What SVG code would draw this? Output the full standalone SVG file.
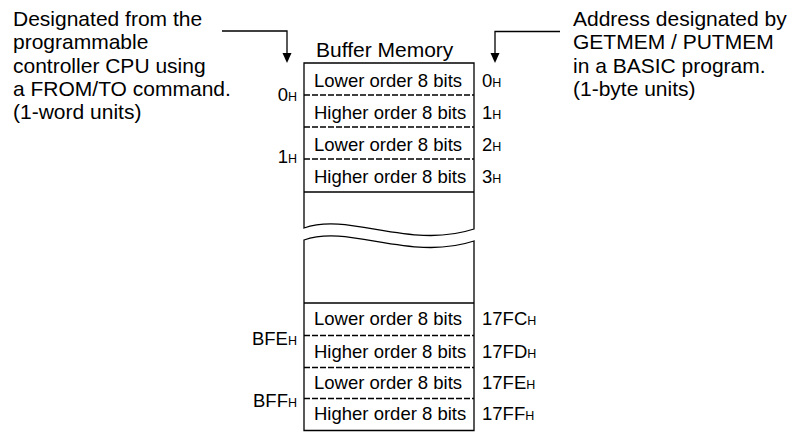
<svg xmlns="http://www.w3.org/2000/svg" width="797" height="432" viewBox="0 0 797 432">
<defs>
<style>
text{font-family:"Liberation Sans",Arial,sans-serif;fill:#000}
.ann{font-size:21px}
.cell{font-size:18.5px}
.lbl{font-size:18.5px}
.sub{font-size:12.5px}
.ln{fill:none;stroke:#000;stroke-width:1.3}
.dash{fill:none;stroke:#000;stroke-width:1.3;stroke-dasharray:6 2}
</style>
<marker id="ah" markerWidth="10" markerHeight="11" refX="5" refY="10" orient="auto-start-reverse" markerUnits="userSpaceOnUse" viewBox="0 0 10 11">
<path d="M0,0 L10,0 L5,10 Z" fill="#000" transform="translate(0,0)"/>
</marker>
</defs>
<rect width="797" height="432" fill="#fff"/>

<g id="note-left">
<text class="ann" x="13" y="26">Designated from the</text>
<text class="ann" x="13" y="49.3">programmable</text>
<text class="ann" x="13" y="72.6">controller CPU using</text>
<text class="ann" x="13" y="96">a FROM/TO command.</text>
<text class="ann" x="13" y="119.3">(1-word units)</text>
</g>

<g id="note-right">
<text class="ann" x="573" y="26">Address designated by</text>
<text class="ann" x="573" y="49.3">GETMEM / PUTMEM</text>
<text class="ann" x="573" y="72.6">in a BASIC program.</text>
<text class="ann" x="573" y="96">(1-byte units)</text>
</g>

<g id="connectors">
<path class="ln" d="M222,31 H287 V54"/>
<path d="M282.5,53 L291.5,53 L287,63 Z" fill="#000"/>
<path class="ln" d="M560,31.5 H495 V54"/>
<path d="M490.5,53 L499.5,53 L495,63 Z" fill="#000"/>
</g>

<g id="buffer-memory">
<text class="ann" x="316" y="57">Buffer Memory</text>
<!-- upper piece -->
<path d="M304,228 V63 H474 V229 C410,250 350,212 304,228 Z" fill="#fff" stroke="#000" stroke-width="1.3"/>
<line class="dash" x1="304" y1="95" x2="474" y2="95"/>
<line class="dash" x1="304" y1="127" x2="474" y2="127"/>
<line class="dash" x1="304" y1="159" x2="474" y2="159"/>
<line class="ln" x1="304" y1="192" x2="474" y2="192"/>
<!-- lower piece -->
<path d="M304,430.5 V240 C350,224 410,262 474,241 V430.5 Z" fill="#fff" stroke="#000" stroke-width="1.3"/>
<line class="ln" x1="304" y1="303" x2="474" y2="303"/>
<line class="dash" x1="304" y1="335.5" x2="474" y2="335.5"/>
<line class="dash" x1="304" y1="367.5" x2="474" y2="367.5"/>
<line class="dash" x1="304" y1="398.5" x2="474" y2="398.5"/>
</g>

<g id="cells">
<text class="cell" x="314" y="86.5">Lower order 8 bits</text>
<text class="cell" x="314" y="119">Higher order 8 bits</text>
<text class="cell" x="314" y="150.5">Lower order 8 bits</text>
<text class="cell" x="314" y="182.5">Higher order 8 bits</text>
<text class="cell" x="314" y="325">Lower order 8 bits</text>
<text class="cell" x="314" y="357.5">Higher order 8 bits</text>
<text class="cell" x="314" y="388.5">Lower order 8 bits</text>
<text class="cell" x="314" y="419.5">Higher order 8 bits</text>
</g>

<g id="word-addresses">
<text class="lbl" x="297" y="100.5" text-anchor="end">0<tspan class="sub">H</tspan></text>
<text class="lbl" x="297" y="163" text-anchor="end">1<tspan class="sub">H</tspan></text>
<text class="lbl" x="297" y="345" text-anchor="end">BFE<tspan class="sub">H</tspan></text>
<text class="lbl" x="297" y="406.5" text-anchor="end">BFF<tspan class="sub">H</tspan></text>
</g>

<g id="byte-addresses">
<text class="lbl" x="482" y="86.5">0<tspan class="sub">H</tspan></text>
<text class="lbl" x="482" y="119">1<tspan class="sub">H</tspan></text>
<text class="lbl" x="482" y="150.5">2<tspan class="sub">H</tspan></text>
<text class="lbl" x="482" y="182.5">3<tspan class="sub">H</tspan></text>
<text class="lbl" x="482" y="325">17FC<tspan class="sub">H</tspan></text>
<text class="lbl" x="482" y="357.5">17FD<tspan class="sub">H</tspan></text>
<text class="lbl" x="482" y="388.5">17FE<tspan class="sub">H</tspan></text>
<text class="lbl" x="482" y="419.5">17FF<tspan class="sub">H</tspan></text>
</g>
</svg>
